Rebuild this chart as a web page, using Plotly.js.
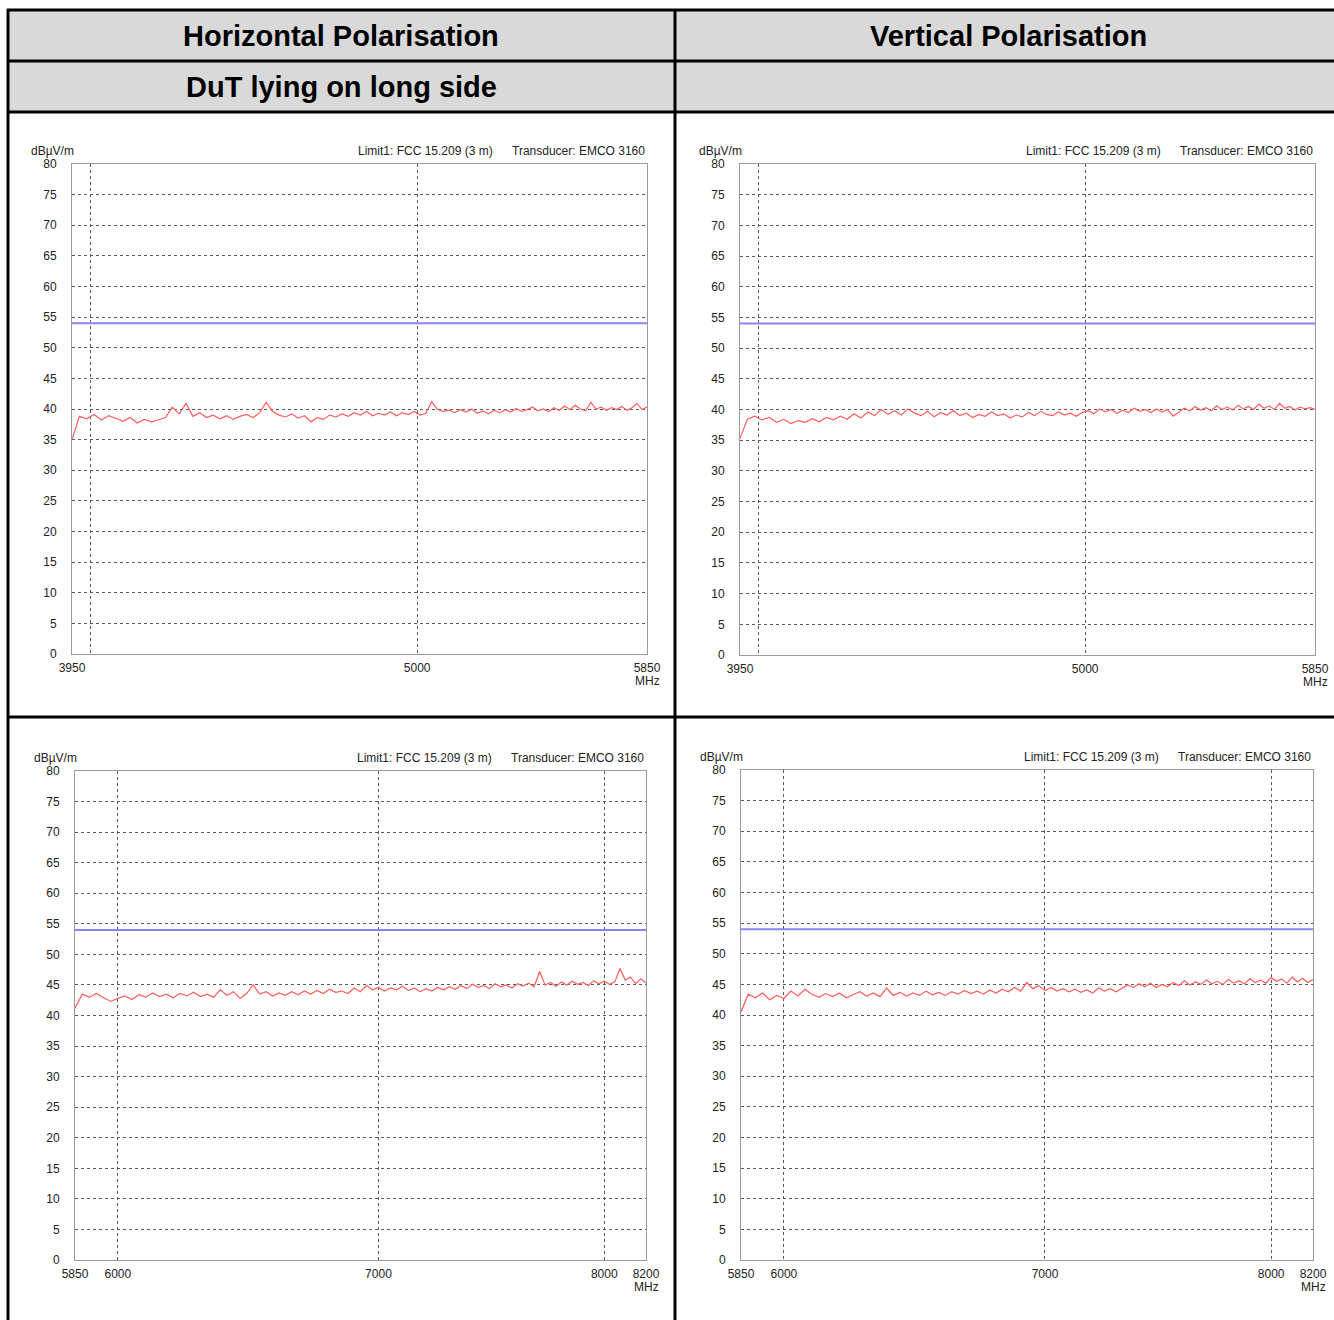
<!DOCTYPE html>
<html>
<head>
<meta charset="utf-8">
<script src="https://cdn.plot.ly/plotly-3.0.1.min.js"></script>
<style>html,body{margin:0;padding:0;background:#fff;}#chart{width:1334px;height:1320px;}</style>
</head>
<body>
<div id="chart"></div>
<script>
// ---------- data ----------
const headerCol1 = "Horizontal Polarisation";
const headerCol2 = "Vertical Polarisation";
const headerRow2 = "DuT lying on long side";
const yUnit = "dBµV/m";
const xUnit = "MHz";
const limitText = "Limit1: FCC 15.209 (3 m)";
const transducerText = "Transducer: EMCO 3160";

const bandLow = [3950, 5850];      // MHz
const bandHigh = [5850, 8200];     // MHz
const stepLow = 20;                // sweep step, MHz
const stepHigh = 25;

const tickValsLow = [3950, 4000, 5000, 5850];
const tickTextLow = ["3950", "", "5000", "5850"];
const tickValsHigh = [5850, 6000, 7000, 8000, 8200];
const tickTextHigh = ["5850", "6000", "7000", "8000", "8200"];
const yTickVals = [0,5,10,15,20,25,30,35,40,45,50,55,60,65,70,75,80];

const limitLevel = [54, 54];       // dBµV/m

// horizontal polarisation, 3950-5850 MHz
const hLow = [35.0,38.8,38.4,39.1,38.2,38.9,38.5,38.0,38.6,37.7,38.3,37.9,38.2,38.6,40.3,39.2,40.9,38.8,39.4,38.6,
  39.0,38.4,38.9,38.3,38.8,39.1,38.6,39.4,41.1,39.6,39.0,38.7,39.2,38.5,38.9,37.9,38.6,38.3,39.0,38.7,
  39.2,38.8,39.4,39.0,39.6,38.9,39.3,39.0,39.5,38.9,39.4,39.1,39.6,39.0,39.3,41.2,39.9,39.6,39.8,39.4,
  39.9,39.5,40.0,39.3,39.7,39.2,39.8,39.4,39.9,39.5,40.1,39.6,39.9,40.3,39.7,40.0,39.6,40.2,39.8,40.5,
  39.9,40.6,40.0,39.7,41.1,40.0,40.3,39.8,40.2,39.9,40.4,39.8,40.2,40.9,39.9,40.3];
// vertical polarisation, 3950-5850 MHz
const vLow = [35.3,38.4,38.9,38.3,38.7,37.9,38.4,37.7,38.2,37.9,38.5,38.0,38.7,38.3,38.9,38.4,39.3,38.6,39.6,39.0,
  40.0,39.2,39.8,39.1,40.1,39.4,39.0,39.7,38.8,39.5,39.1,39.8,39.0,39.4,38.7,39.2,38.9,39.6,39.0,39.3,
  38.6,39.1,38.8,39.5,39.0,39.7,39.2,39.0,39.6,39.1,39.4,38.9,39.5,39.8,39.3,40.1,39.6,40.0,39.4,39.9,
  39.5,40.2,39.7,40.0,39.5,40.1,39.6,40.0,38.9,39.5,40.2,39.8,40.5,39.9,40.3,39.8,40.6,40.0,40.4,39.9,
  40.7,40.1,40.5,40.0,40.9,40.2,40.6,40.0,41.0,40.2,40.5,39.9,40.4,40.1,40.3,40.0];
// horizontal polarisation, 5850-8200 MHz
const hHigh = [41.2,43.5,43.0,43.6,42.9,42.3,42.8,43.2,42.6,43.4,43.0,43.7,43.1,43.5,42.9,43.6,43.2,43.8,43.1,43.5,
  43.0,44.2,43.3,43.9,42.8,43.6,45.0,43.5,43.9,43.2,43.7,43.3,43.9,43.4,44.0,43.5,44.1,43.6,44.3,43.8,
  44.0,43.6,44.5,43.9,44.9,44.2,44.6,44.0,44.5,44.2,44.8,44.1,44.5,43.9,44.4,44.0,44.6,44.2,44.7,44.3,
  44.9,44.4,45.1,44.6,44.9,44.4,45.2,44.7,45.0,44.5,45.2,44.8,45.3,44.7,47.2,45.0,45.4,44.8,45.5,45.0,
  45.6,45.1,45.4,44.9,45.7,45.2,45.6,45.1,45.5,47.7,45.8,46.3,45.2,46.0,45.3];
// vertical polarisation, 5850-8200 MHz
const vHigh = [40.5,43.4,42.8,43.6,42.5,43.2,42.7,43.9,43.1,44.2,43.4,42.9,43.5,43.0,43.6,42.8,43.3,43.8,43.1,43.6,
  43.0,44.4,43.2,43.7,43.1,43.6,43.2,43.9,43.3,43.7,43.2,43.8,43.4,44.0,43.5,43.9,43.4,44.1,43.6,44.2,
  43.8,44.5,43.9,45.3,44.3,44.8,44.0,44.5,43.9,44.3,43.8,44.2,43.7,44.1,43.6,44.4,43.9,44.3,43.8,44.4,
  44.9,44.5,45.1,44.6,45.2,44.5,45.0,44.6,45.3,44.8,45.6,44.9,45.4,45.0,45.7,45.1,45.5,45.0,45.8,45.2,
  45.6,45.1,45.9,45.3,45.7,45.2,46.1,45.5,45.9,45.2,46.2,45.4,46.0,45.3,45.8];

// ---------- helpers ----------
const W = 1334, H = 1320;
const px = x => x / W;
const py = y => 1 - y / H;
const FONT = "Liberation Sans, Arial, sans-serif";

function sweep(band, step, n) {
  const f = [];
  for (let i = 0; i < n; i++) f.push(band[0] + step * i);
  return f;
}

// plot areas in pixels: [left, right, top, bottom]
const panels = [
  {box: [72, 647, 164, 654], band: bandLow, step: stepLow, data: hLow, tv: tickValsLow, tt: tickTextLow},
  {box: [740, 1315, 164, 655], band: bandLow, step: stepLow, data: vLow, tv: tickValsLow, tt: tickTextLow},
  {box: [75, 646, 771, 1260], band: bandHigh, step: stepHigh, data: hHigh, tv: tickValsHigh, tt: tickTextHigh},
  {box: [741, 1313, 770, 1260], band: bandHigh, step: stepHigh, data: vHigh, tv: tickValsHigh, tt: tickTextHigh}
];

const traces = [];
const layout = {
  width: W, height: H,
  margin: {l: 0, r: 0, t: 0, b: 0},
  paper_bgcolor: "#fff",
  plot_bgcolor: "#fff",
  showlegend: false,
  font: {family: FONT, size: 12, color: "#222"},
  shapes: [],
  annotations: []
};

const smallFont = {family: FONT, size: 12, color: "#222"};

panels.forEach((p, k) => {
  const n = k + 1;
  const xa = "x" + (n === 1 ? "" : n), ya = "y" + (n === 1 ? "" : n);
  const xKey = "xaxis" + (n === 1 ? "" : n), yKey = "yaxis" + (n === 1 ? "" : n);
  const [l, r, t, b] = p.box;
  traces.push({
    x: [p.band[0], p.band[1]], y: limitLevel, xaxis: xa, yaxis: ya,
    mode: "lines", line: {color: "#8585f2", width: 2}, hoverinfo: "skip"
  });
  traces.push({
    x: sweep(p.band, p.step, p.data.length), y: p.data, xaxis: xa, yaxis: ya,
    mode: "lines", line: {color: "#ff5c5c", width: 1.2}, hoverinfo: "skip"
  });
  layout[xKey] = {
    type: "log",
    domain: [px(l), px(r)],
    anchor: ya,
    range: [Math.log10(p.band[0]), Math.log10(p.band[1])],
    tickmode: "array", tickvals: p.tv, ticktext: p.tt,
    showgrid: true, gridcolor: "#5a5a5a", gridwidth: 1, griddash: "3px,3px",
    showline: true, mirror: true, linecolor: "#999", linewidth: 1,
    ticks: "outside", ticklen: 3, tickcolor: "rgba(0,0,0,0)",
    tickfont: smallFont,
    zeroline: false, fixedrange: true
  };
  layout[yKey] = {
    domain: [py(b), py(t)],
    anchor: xa,
    range: [0, 80],
    tickmode: "array", tickvals: yTickVals,
    showgrid: true, gridcolor: "#5a5a5a", gridwidth: 1, griddash: "3px,3px",
    showline: true, mirror: true, linecolor: "#999", linewidth: 1,
    ticks: "outside", ticklen: 12, tickcolor: "rgba(0,0,0,0)",
    tickfont: smallFont,
    zeroline: false, fixedrange: true
  };
  const ty = t - 13;
  layout.annotations.push(
    {xref: "paper", yref: "paper", x: px(l - 43), y: py(ty), xanchor: "left", yanchor: "middle",
     text: yUnit, showarrow: false, font: smallFont},
    {xref: "paper", yref: "paper", x: px(r), y: py(ty), xanchor: "right", yanchor: "middle",
     text: transducerText, showarrow: false, font: smallFont},
    {xref: "paper", yref: "paper", x: px(r - 152), y: py(ty), xanchor: "right", yanchor: "middle",
     text: limitText, showarrow: false, font: smallFont},
    {xref: "paper", yref: "paper", x: px(r), y: py(b + 27), xanchor: "center", yanchor: "middle",
     text: xUnit, showarrow: false, font: smallFont}
  );
});

// table frame
const grey = "#d9d9d9";
layout.shapes.push(
  {type: "rect", xref: "paper", yref: "paper", x0: px(8), x1: px(1334), y0: py(112), y1: py(10),
   fillcolor: grey, line: {width: 0}, layer: "below"}
);
const hLines = [10, 61, 112, 717];
hLines.forEach(y => layout.shapes.push({type: "line", xref: "paper", yref: "paper",
  x0: px(7), x1: px(1334), y0: py(y), y1: py(y), line: {color: "#000", width: 3}}));
[8, 675].forEach(x => layout.shapes.push({type: "line", xref: "paper", yref: "paper",
  x0: px(x), x1: px(x), y0: py(9), y1: py(1320), line: {color: "#000", width: 3}}));

layout.annotations.push(
  {xref: "paper", yref: "paper", x: px(341), y: py(36), xanchor: "center", yanchor: "middle",
   text: "<b>" + headerCol1 + "</b>", showarrow: false, font: {family: FONT, size: 29, color: "#000"}},
  {xref: "paper", yref: "paper", x: px(1008), y: py(36), xanchor: "center", yanchor: "middle",
   text: "<b>" + headerCol2 + "</b>", showarrow: false, font: {family: FONT, size: 29, color: "#000"}},
  {xref: "paper", yref: "paper", x: px(341), y: py(87), xanchor: "center", yanchor: "middle",
   text: "<b>" + headerRow2 + "</b>", showarrow: false, font: {family: FONT, size: 29, color: "#000"}}
);

Plotly.newPlot("chart", traces, layout, {displayModeBar: false, staticPlot: true});
</script>
</body>
</html>
